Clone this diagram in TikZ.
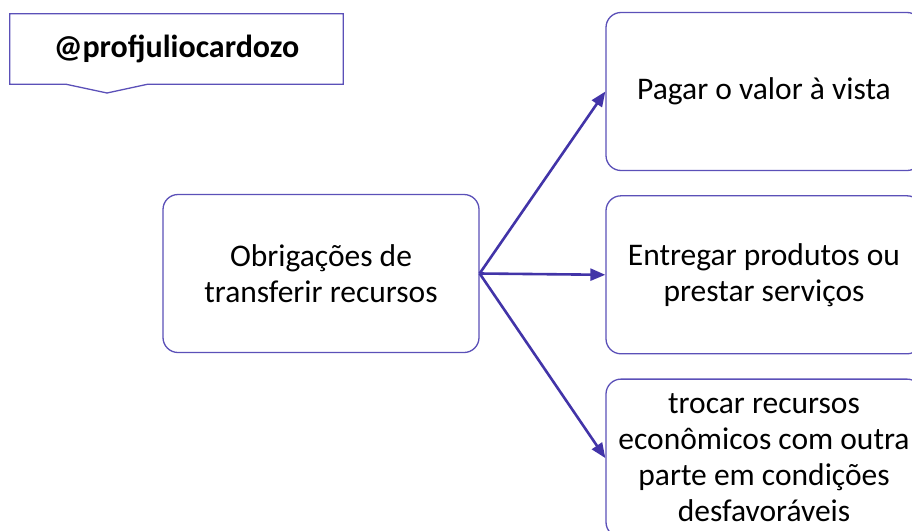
\documentclass[tikz,border=0pt]{standalone}
\usepackage{fontspec}
\setmainfont{Carlito}
\usepackage{xcolor}
\usetikzlibrary{arrows.meta, positioning, calc}
\definecolor{JulioLine}{RGB}{91,80,184}
\definecolor{JulioArrow}{RGB}{66,52,168}

\begin{document}
\begin{tikzpicture}[x=1pt, y=-1pt, >={Triangle[length=15pt, width=12pt]}]
      \tikzset{
        card/.style={rectangle, rounded corners=15pt, draw=JulioLine, line width=1.3pt, fill=white, minimum width=316pt, minimum height=158pt, align=center, inner sep=4pt, font=\fontsize{31.5}{36}\selectfont},
        tag/.style={rectangle, minimum width=333pt, minimum height=70pt, align=center, font=\bfseries\fontsize{32}{36}\selectfont},
        link/.style={->, line width=2.6pt, draw=JulioArrow}
      }
      \useasboundingbox (0,0) rectangle (912,530);
      \clip (0,0) rectangle (912,530);

      \node[tag] (handle) at (176.5,49) {@profjuliocardozo};
      \draw[JulioLine, line width=1.3pt] (handle.north west) -- (handle.north east) -- (handle.south east)
        -- ($(handle.south west)+(138,0)$) -- (107,93) -- ($(handle.south west)+(56,0)$) -- (handle.south west) -- cycle;

      \node[card] (obrig) at (321,273.5) {Obrigações de\\transferir recursos};
      \node[card] (pagar) at (764,91.5) {Pagar o valor à vista};
      \node[card, below=24pt of pagar] (entregar) {Entregar produtos ou\\prestar serviços};
      \node[card, below=24pt of entregar] (trocar) {trocar recursos\\econômicos com outra\\parte em condições\\desfavoráveis};

      \draw[link] (obrig.east) -- (pagar.west);
      \draw[link] (obrig.east) -- (entregar.west);
      \draw[link] (obrig.east) -- (trocar.west);
    \end{tikzpicture}
\end{document}
